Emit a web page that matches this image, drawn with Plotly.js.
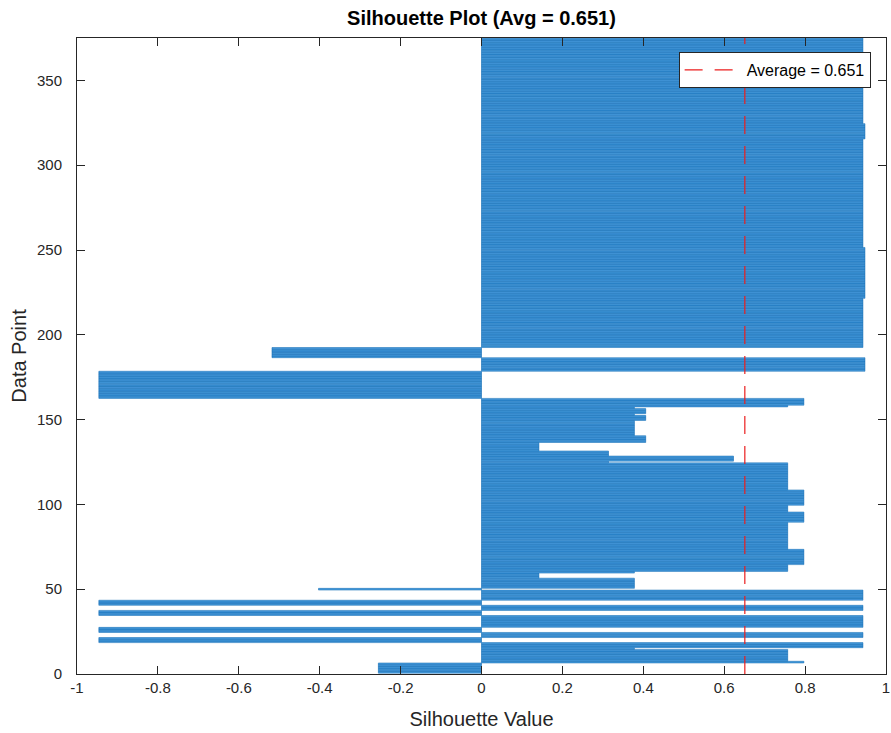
<!DOCTYPE html>
<html>
<head>
<meta charset="utf-8">
<script src="https://cdn.plot.ly/plotly-3.0.1.min.js"></script>
<style>html,body{margin:0;padding:0;background:#fff;}</style>
</head>
<body>
<div id="chart" style="width:891px;height:733px;"></div>
<script>
// Silhouette value of each data point (data point 1 first)
const silhouetteValues = [
  -0.255,-0.255,-0.255,-0.255,-0.255,-0.255,            // 1-6
  0.797,                                                // 7
  0.757,0.757,0.757,0.757,0.757,0.757,0.757,            // 8-14
  0.378,                                                // 15
  0.943,0.943,0.943,                                    // 16-18
  -0.946,-0.946,-0.946,                                 // 19-21
  0.943,0.943,0.943,                                    // 22-24
  -0.946,-0.946,-0.946,                                 // 25-27
  0.943,0.943,0.943,0.943,0.943,0.943,0.943,            // 28-34
  -0.946,-0.946,-0.946,                                 // 35-37
  0.943,0.943,0.943,                                    // 38-40
  -0.946,-0.946,-0.946,                                 // 41-43
  0.943,0.943,0.943,0.943,0.943,0.943,                  // 44-49
  -0.403,                                               // 50
  0.378,0.378,0.378,0.378,0.378,0.378,                  // 51-56
  0.142,0.142,0.142,                                    // 57-59
  0.378,                                                // 60
  0.757,0.757,0.757,0.757,                              // 61-64
  0.797,0.797,0.797,0.797,0.797,0.797,0.797,0.797,0.797, // 65-73
  0.757,0.757,0.757,0.757,0.757,0.757,0.757,0.757,      // 74-81
  0.757,0.757,0.757,0.757,0.757,0.757,0.757,0.757,      // 82-89
  0.797,0.797,0.797,0.797,0.797,0.797,                  // 90-95
  0.757,0.757,0.757,0.757,                              // 96-99
  0.797,0.797,0.797,0.797,0.797,0.797,0.797,0.797,0.797, // 100-108
  0.757,0.757,0.757,0.757,0.757,0.757,0.757,0.757,      // 109-116
  0.757,0.757,0.757,0.757,0.757,0.757,0.757,0.757,      // 117-124
  0.314,                                                // 125
  0.623,0.623,0.623,                                    // 126-128
  0.314,0.314,0.314,                                    // 129-131
  0.142,0.142,0.142,0.142,0.142,                        // 132-136
  0.406,0.406,0.406,0.406,                              // 137-140
  0.378,0.378,0.378,0.378,0.378,0.378,0.378,0.378,0.378, // 141-149
  0.406,0.406,0.406,                                    // 150-152
  0.378,                                                // 153
  0.406,0.406,0.406,                                    // 154-156
  0.378,                                                // 157
  0.757,                                                // 158
  0.797,0.797,0.797,0.797,                              // 159-162
  -0.946,-0.946,-0.946,-0.946,-0.946,-0.946,-0.946,-0.946, // 163-170
  -0.946,-0.946,-0.946,-0.946,-0.946,-0.946,-0.946,-0.946, // 171-178
  0.948,0.948,0.948,0.948,0.948,0.948,0.948,0.948,      // 179-186
  -0.518,-0.518,-0.518,-0.518,-0.518,-0.518,            // 187-192
  0.943,0.943,0.943,0.943,0.943,0.943,0.943,0.943,0.943,0.943, // 193-202
  0.943,0.943,0.943,0.943,0.943,0.943,0.943,0.943,0.943,0.943, // 203-212
  0.943,0.943,0.943,0.943,0.943,0.943,0.943,0.943,0.943,       // 213-221
  0.948,0.948,0.948,0.948,0.948,0.948,0.948,0.948,0.948,0.948, // 222-231
  0.948,0.948,0.948,0.948,0.948,0.948,0.948,0.948,0.948,0.948, // 232-241
  0.948,0.948,0.948,0.948,0.948,0.948,0.948,0.948,0.948,0.948, // 242-251
  0.943,0.943,0.943,0.943,0.943,0.943,0.943,0.943,0.943,0.943, // 252-261
  0.943,0.943,0.943,0.943,0.943,0.943,0.943,0.943,0.943,0.943, // 262-271
  0.943,0.943,0.943,0.943,0.943,0.943,0.943,0.943,0.943,0.943, // 272-281
  0.943,0.943,0.943,0.943,0.943,0.943,0.943,0.943,0.943,0.943, // 282-291
  0.943,0.943,0.943,0.943,0.943,0.943,0.943,0.943,0.943,0.943, // 292-301
  0.943,0.943,0.943,0.943,0.943,0.943,0.943,0.943,0.943,0.943, // 302-311
  0.943,0.943,0.943,0.943,                                     // 312-315
  0.948,0.948,0.948,0.948,0.948,0.948,0.948,0.948,0.948,       // 316-324
  0.943,0.943,0.943,0.943,0.943,0.943,0.943,0.943,0.943,0.943, // 325-334
  0.943,0.943,0.943,0.943,0.943,0.943,0.943,0.943,0.943,0.943, // 335-344
  0.943,0.943,0.943,0.943,0.943,0.943,0.943,0.943,0.943,0.943, // 345-354
  0.943,0.943,0.943,0.943,0.943,0.943,0.943,0.943,0.943,0.943, // 355-364
  0.943,0.943,0.943,0.943,0.943,0.943,0.943,0.943,0.943,0.943, // 365-374
  0.943                                                        // 375
];
const averageValue = 0.651;
const averageLabel = 'Average = 0.651';
const chartTitle = 'Silhouette Plot (Avg = 0.651)';
const xTickValues = [-1,-0.8,-0.6,-0.4,-0.2,0,0.2,0.4,0.6,0.8,1];
const xTickLabels = ['-1','-0.8','-0.6','-0.4','-0.2','0','0.2','0.4','0.6','0.8','1'];
const yTickValues = [0,50,100,150,200,250,300,350];
const yTickLabels = ['0','50','100','150','200','250','300','350'];
const yMax = 375;

const axisColor = '#262626';
const fontFamily = 'Liberation Sans, Arial, Helvetica, sans-serif';

const bars = {
  type: 'bar',
  orientation: 'h',
  x: silhouetteValues,
  y0: 1,
  dy: 1,
  marker: {color: '#4a9cdc', line: {color: '#0a66b0', width: 0.5}},
  showlegend: false,
  hoverinfo: 'x+y'
};

const avgLine = {
  type: 'scatter',
  mode: 'lines',
  x: [averageValue, averageValue],
  y: [0, yMax],
  name: averageLabel,
  line: {color: 'rgb(235,30,30)', width: 1.2, dash: '18px,12px'}
};

const commonAxis = {
  showline: true,
  linecolor: axisColor,
  linewidth: 1,
  mirror: 'ticks',
  ticks: 'inside',
  ticklen: 8,
  tickwidth: 1,
  tickcolor: axisColor,
  showgrid: false,
  zeroline: false,
  tickfont: {size: 15, color: axisColor, family: fontFamily},
  tickmode: 'array'
};

const layout = {
  width: 891,
  height: 733,
  margin: {l: 77, r: 5, t: 38, b: 59},
  paper_bgcolor: '#ffffff',
  plot_bgcolor: '#ffffff',
  font: {family: fontFamily, color: axisColor},
  bargap: 0,
  title: {
    text: '<b>' + chartTitle + '</b>',
    font: {size: 20, color: '#000000', family: fontFamily},
    xref: 'paper', x: 0.5, xanchor: 'center',
    yref: 'container', y: 1 - 18/733, yanchor: 'middle'
  },
  xaxis: Object.assign({}, commonAxis, {
    range: [-1, 1],
    tickvals: xTickValues,
    ticktext: xTickLabels,
    title: {text: 'Silhouette Value', font: {size: 20, color: axisColor, family: fontFamily}, standoff: 16}
  }),
  yaxis: Object.assign({}, commonAxis, {
    range: [0, yMax],
    tickvals: yTickValues,
    ticktext: yTickLabels,
    ticklabelstandoff: 11,
    title: {text: 'Data Point', font: {size: 20, color: axisColor, family: fontFamily}, standoff: 4}
  }),
  legend: {
    x: 0.981, xanchor: 'right', xref: 'paper',
    y: 0.978, yanchor: 'top', yref: 'paper',
    bgcolor: '#ffffff',
    bordercolor: axisColor,
    borderwidth: 1,
    itemwidth: 57,
    font: {size: 16, color: '#000000', family: fontFamily}
  }
};

Plotly.newPlot('chart', [bars, avgLine], layout, {displayModeBar: false, staticPlot: true});
</script>
</body>
</html>
